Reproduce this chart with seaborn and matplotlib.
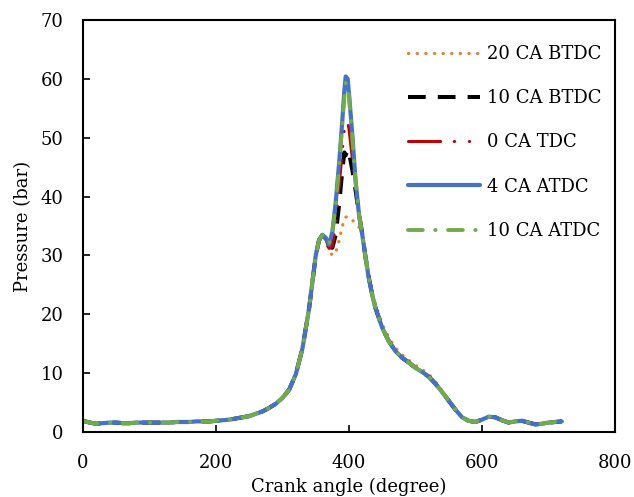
import numpy as np
import pandas as pd
import matplotlib
matplotlib.use("Agg")
import matplotlib.pyplot as plt
import seaborn as sns

# ---------------- data ----------------
# compression stroke (common to all cases)
ca_comp = [0, 10, 20, 30, 40, 50, 60, 70, 80, 90, 100, 110, 120, 130, 140, 150, 160,
           170, 180, 190, 200, 210, 220, 230, 240, 250, 260, 270, 280, 290, 300, 310,
           320, 330, 340, 345, 350, 355]
p_comp = [1.9, 1.6, 1.4, 1.5, 1.6, 1.6, 1.5, 1.5, 1.6, 1.6, 1.6, 1.6, 1.6, 1.6, 1.7, 1.7, 1.7,
          1.8, 1.8, 1.8, 1.9, 2.0, 2.1, 2.3, 2.5, 2.7, 3.1, 3.5, 4.1, 4.8, 5.8, 7.2,
          9.8, 14.2, 21.0, 25.5, 30.0, 32.6]

# combustion window
ca_comb = [360, 365, 370, 375, 380, 385, 390, 393, 395, 398, 400, 405, 410, 415, 420, 425, 430, 435]
p_20btdc = [33.5, 32.5, 30.8, 30.0, 30.5, 32.5, 35.0, 36.0, 36.5, 36.6, 36.5, 36.0, 35.4, 34.8, 33.8, 30.2, 26.6, 23.8]
p_10btdc = [33.5, 32.8, 31.5, 31.3, 33.5, 38.5, 44.5, 47.5, 47.0, 48.0, 47.5, 44.5, 41.0, 37.0, 33.6, 29.6, 26.1, 23.3]
p_0tdc = [33.5, 32.8, 31.2, 31.5, 35.5, 41.5, 48.0, 51.5, 52.5, 52.6, 51.5, 46.5, 41.5, 37.0, 33.5, 29.5, 26.0, 23.2]
p_4atdc = [33.5, 33.0, 31.8, 34.0, 39.0, 45.5, 53.0, 58.0, 60.4, 60.0, 57.5, 50.5, 42.5, 37.0, 33.5, 29.5, 26.0, 23.2]
p_10atdc = [33.5, 33.0, 32.0, 34.0, 38.5, 45.0, 52.5, 57.0, 59.3, 59.2, 57.0, 50.0, 42.5, 37.0, 33.5, 29.5, 26.0, 23.2]

# expansion / exhaust / intake
ca_exp = [440, 450, 460, 470, 480, 490, 500, 510, 520, 530, 540, 550, 560, 570, 580, 590,
          600, 610, 620, 630, 640, 650, 660, 670, 680, 690, 700, 710, 720]
p_exp = [21.0, 17.7, 15.4, 13.7, 12.6, 11.8, 10.9, 10.2, 9.4, 8.2, 6.8, 5.3, 3.8, 2.5, 1.9, 1.7,
         2.1, 2.6, 2.5, 2.0, 1.6, 1.8, 1.9, 1.6, 1.3, 1.4, 1.6, 1.7, 1.8]
p_exp_20btdc = [21.6, 18.3, 16.0, 14.3, 13.1, 12.2, 11.3, 10.6, 9.8, 8.5, 7.0, 5.3, 3.8, 2.5, 1.9, 1.7,
                2.1, 2.6, 2.5, 2.0, 1.6, 1.8, 1.9, 1.6, 1.3, 1.4, 1.6, 1.7, 1.8]

labels = ["20 CA BTDC", "10 CA BTDC", "0 CA TDC", "4 CA ATDC", "10 CA ATDC"]

# ---------------- styling ----------------
sns.set_theme(style="white")
plt.rcParams["font.family"] = ["DejaVu Serif"]

fig = plt.figure(figsize=(6.34, 4.97), dpi=100)
ax = fig.add_axes([83 / 634, 1 - 432 / 497, 532 / 634, 412 / 497])

ca_all = ca_comp + ca_comb + ca_exp
series = [
    (labels[0], p_comp + p_20btdc + p_exp_20btdc, "#ED7D31", 2.3, (0, (0.1, 2.6)), "round"),
    (labels[1], p_comp + p_10btdc + p_exp, "#000000", 2.9, (0, (4.4, 3.0)), "butt"),
    (labels[2], p_comp + p_0tdc + p_exp, "#C00000", 2.2, (0, (10.5, 4.5, 0.1, 4.8, 0.1, 4.5)), "round"),
    (labels[3], p_comp + p_4atdc + p_exp, "#4472C4", 3.0, "-", "round"),
    (labels[4], p_comp + p_10atdc + p_exp, "#70AD47", 2.8, (0, (3.8, 3.2, 0.1, 3.2)), "round"),
]

for lab, p, col, lw, ls, cap in series:
    df = pd.DataFrame({"ca": ca_all, "p": p})
    sns.lineplot(data=df, x="ca", y="p", ax=ax, color=col, linewidth=lw,
                 linestyle=ls, label=lab, dash_capstyle=cap, solid_capstyle="round",
                 sort=False)

ax.set_xlim(0, 800)
ax.set_ylim(0, 70)
ax.set_xticks([0, 200, 400, 600, 800])
ax.set_yticks(range(0, 71, 10))
ax.tick_params(axis="both", direction="in", length=5, width=1.2, labelsize=13,
               colors="black")
ax.tick_params(axis="x", top=False, bottom=True, pad=16)
ax.tick_params(axis="y", left=True, right=False, pad=14)
for s in ax.spines.values():
    s.set_visible(True)
    s.set_color("black")
    s.set_linewidth(1.5)

ax.set_xlabel("Crank angle (degree)", fontsize=13, color="black", labelpad=4)
ax.set_ylabel("Pressure (bar)", fontsize=13, color="black", labelpad=6)

leg = ax.legend(loc="upper left", bbox_to_anchor=(0.611, 0.939), frameon=False,
                fontsize=13, handlelength=4.0, handletextpad=0.35,
                labelspacing=1.45, borderaxespad=0, borderpad=0)
for t in leg.get_texts():
    t.set_color("black")

fig.savefig("out.png", dpi=100)
